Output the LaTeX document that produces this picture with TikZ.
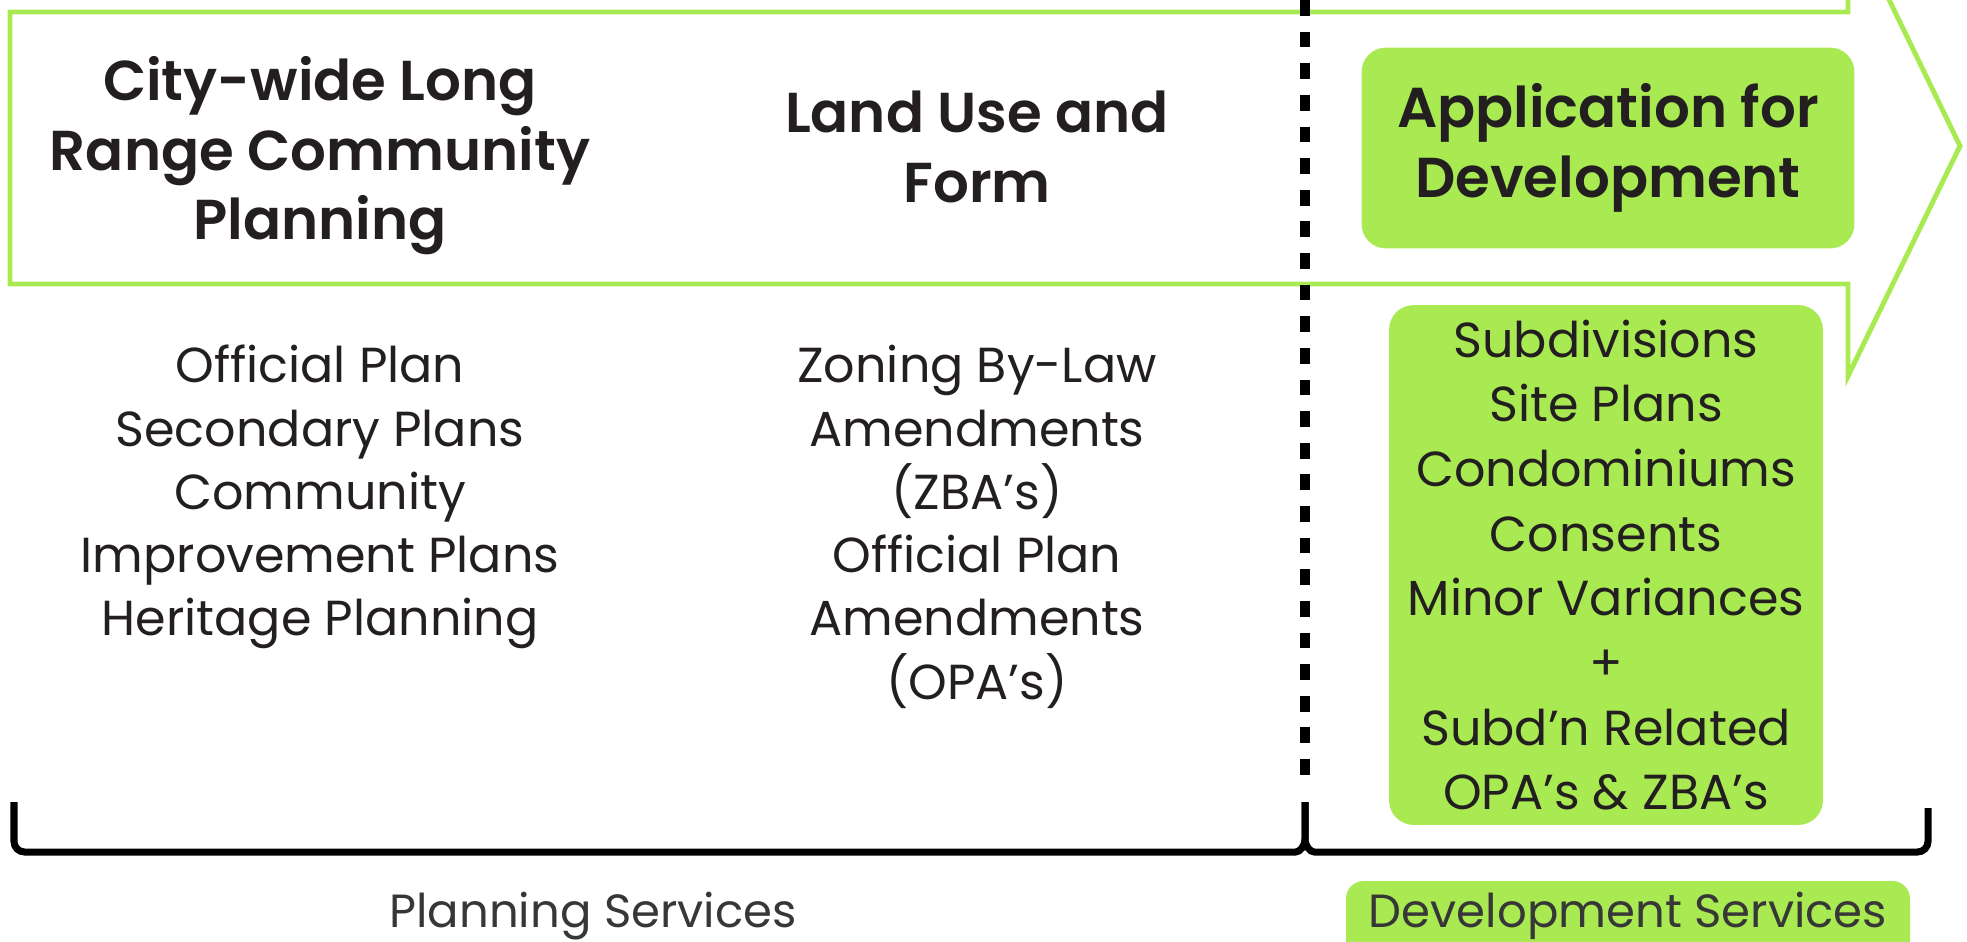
\documentclass[tikz,border=0pt]{standalone}
\usepackage{fontspec}
\setmainfont{Poppins}
\newfontfamily\headfont{Poppins SemiBold}
\usetikzlibrary{positioning}

\definecolor{leaf}{RGB}{169,234,82}
\definecolor{ink}{RGB}{35,31,32}
\definecolor{slate}{RGB}{55,55,55}

\begin{document}
\begin{tikzpicture}
  [x=0.02cm, y=-0.02cm,
   every node/.style={inner sep=0pt, align=center, text=ink},
   head/.style={font=\headfont\fontsize{32}{39.7}\selectfont},
   item/.style={font=\fontsize{28}{36}\selectfont},
   service/.style={font=\fontsize{26.5}{32}\selectfont, text=slate},
   leafbox/.style={fill=leaf, rounded corners=14pt},
   brace/.style={line width=4pt, rounded corners=6pt}]
  \useasboundingbox (0,0) rectangle (1967,941);

  % the long arrow behind the headings
  \draw[leaf, line width=2.8pt] (10,12) -- (1848,12) -- (1848,-85) -- (1960,146)
    -- (1848,376) -- (1848,284) -- (10,284) -- cycle;

  \node (longrange) [head, anchor=north] at (320,56) {City-wide Long\\Range Community\\Planning};
  \node (landuse) [head, anchor=north] at (977,91) {Land Use and\\Form};
  \node (application) [leafbox, head, minimum width=9.86cm, minimum height=4.02cm]
    at (1608,148) {Application for\\Development};

  \node (plans) [item, anchor=north] at (320,345)
    {Official Plan\\Secondary Plans\\Community\\Improvement Plans\\Heritage Planning};
  \node (amendments) [item, anchor=north] at (977,345)
    {Zoning By-Law\\Amendments\\(ZBA’s)\\Official Plan\\Amendments\\(OPA’s)};
  \node (devapps) [leafbox, item, minimum width=8.68cm, minimum height=10.4cm,
    font=\fontsize{28}{36.8}\selectfont] at (1606,565)
    {Subdivisions\\Site Plans\\Condominiums\\Consents\\Minor Variances\\+\\Subd’n Related\\OPA’s \& ZBA’s};

  % divider and the two brackets meeting in a point
  \draw[line width=5.3pt, dash pattern=on 9pt off 9pt] (1305,0) -- (1305,787);
  \draw[brace] (14,802) -- (14,852) -- (1285,852)
    .. controls (1300,852) and (1305,846) .. (1305,828) -- (1305,802);
  \draw[brace] (1305,802) -- (1305,828)
    .. controls (1305,846) and (1310,852) .. (1325,852) -- (1928,852) -- (1928,808);

  \node (planning) [service, anchor=base] at (593,927) {Planning Services};
  \fill[leaf, rounded corners=10pt] (1346,881) rectangle (1910,990);
  \node (development) [service, anchor=base] at (1628,927) {Development Services};
\end{tikzpicture}
\end{document}
